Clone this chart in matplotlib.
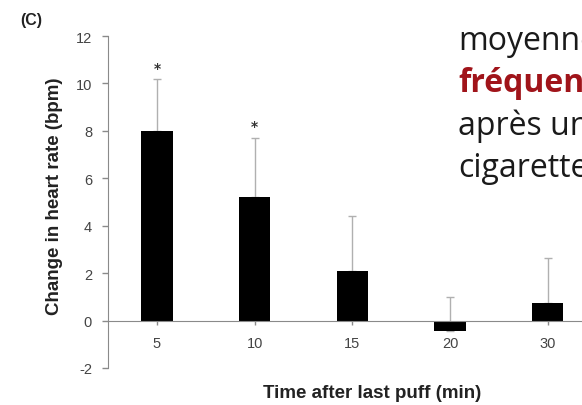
import matplotlib.pyplot as plt

plt.rcParams["axes.unicode_minus"] = False

# ----------------------------
# Data
# ----------------------------
times = ["5", "10", "15", "20", "30"]
change_hr = [8.0, 5.2, 2.1, -0.46, 0.76]
err_top = [10.2, 7.7, 4.4, 1.0, 2.65]        # top of upper error bar
significant = [True, True, False, False, False]
star_y = [10.65, 8.2]

# slide text lying over the figure (cut by the right edge, as in the source)
side_lines = ["moyenne", "fréquence", "après une", "cigarette"]
side_colors = ["#1a1a1a", "#a0141a", "#1a1a1a", "#1a1a1a"]
side_weights = ["normal", "bold", "normal", "normal"]

# ----------------------------
# Figure
# ----------------------------
fig = plt.figure(figsize=(5.82, 4.06), dpi=100)
ax = fig.add_axes([108 / 582, 37 / 406, 474 / 582, 332 / 406])

x = list(range(len(times)))
upper = [t - v for t, v in zip(err_top, change_hr)]
ax.bar(x, change_hr, width=0.32, color="black", zorder=2)
ax.errorbar(x, change_hr, yerr=[[0] * len(x), upper], fmt="none",
            ecolor="#b0b0b0", elinewidth=1, capsize=3, capthick=1, zorder=1)

k = 0
for i, s in enumerate(significant):
    if s:
        ax.text(i, star_y[k], "*", ha="center", va="center",
                fontsize=10, fontweight="bold", color="#333333")
        k += 1

ax.set_xlim(-0.5, 4.35)
ax.set_ylim(-2, 12)
ax.set_yticks(range(-2, 13, 2))
ax.set_xticks(x)
ax.set_xticklabels(times)

for side in ["top", "right"]:
    ax.spines[side].set_visible(False)
ax.spines["bottom"].set_position(("data", 0))
ax.spines["left"].set_color("#8a8a8a")
ax.spines["bottom"].set_color("#8a8a8a")
ax.tick_params(axis="y", direction="out", length=4, width=1, color="#8a8a8a",
               labelsize=10.5, labelcolor="#444444", pad=7.5)
ax.tick_params(axis="x", direction="out", length=3, width=1, color="#8a8a8a",
               labelsize=10.5, labelcolor="#444444", pad=8)
for lab in ax.get_xticklabels() + ax.get_yticklabels():
    lab.set_family("Liberation Sans")

fig.text(55 / 582, 1 - 196 / 406, "Change in heart rate (bpm)", rotation=90,
         ha="center", va="center", fontsize=13.5, fontweight="bold",
         family="Liberation Sans", color="#222222")
fig.text(372 / 582, 1 - 394 / 406, "Time after last puff (min)",
         ha="center", va="center", fontsize=13.5, fontweight="bold",
         family="Liberation Sans", color="#222222")
fig.text(20 / 582, 1 - 21 / 406, "(C)", ha="left", va="center",
         fontsize=11.5, fontweight="bold", family="Liberation Sans", color="#222222")

for j, (t, c, w) in enumerate(zip(side_lines, side_colors, side_weights)):
    fig.text(458 / 582, 1 - (50 + 42.3 * j) / 406, t, ha="left", va="baseline",
             fontsize=23, fontweight=w, color=c, family="Open Sans")

fig.savefig("out.png", dpi=100)
